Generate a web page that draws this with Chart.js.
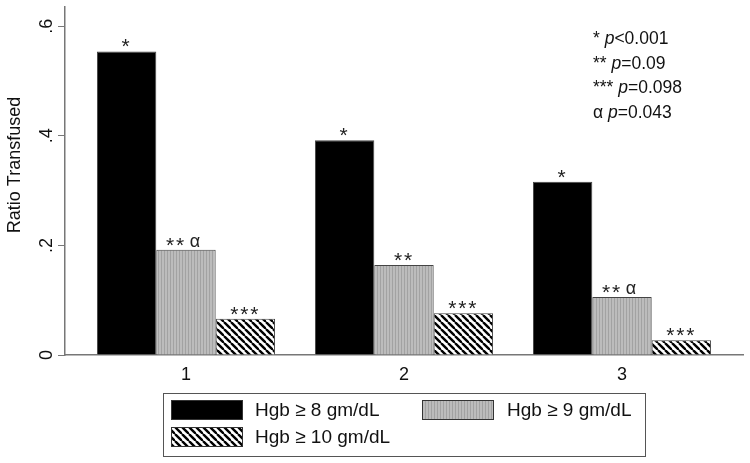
<!DOCTYPE html>
<html>
<head>
<meta charset="utf-8">
<script src="https://cdn.jsdelivr.net/npm/chart.js@4"></script>
<style>
  html, body { margin: 0; padding: 0; background: #fff; }
  #wrap { width: 750px; height: 463px; }
</style>
</head>
<body>
<div id="wrap"><canvas id="chart" width="750" height="463"></canvas></div>
<script>
// data
const groups = [1, 2, 3];
const seriesLabels = ["Hgb \u2265 8 gm/dL", "Hgb \u2265 9 gm/dL", "Hgb \u2265 10 gm/dL"];
const hgb8 = [0.554, 0.392, 0.316];
const hgb9 = [0.192, 0.164, 0.106];
const hgb10 = [0.066, 0.076, 0.027];
const marks8 = ["*", "*", "*"];
const marks9 = ["** \u03b1", "**", "** \u03b1"];
const marks10 = ["***", "***", "***"];
const yTicks = [0, 0.2, 0.4, 0.6];
const yTickLabels = ["0", ".2", ".4", ".6"];
const yTitle = "Ratio Transfused";
const noteMarks = ["*", "**", "***", "\u03b1"];
const noteValues = ["<0.001", "=0.09", "=0.098", "=0.043"];

const FONT = "'Liberation Sans', Arial, sans-serif";

function grayPattern() {
    const c = document.createElement("canvas");
    c.width = 3; c.height = 3;
    const g = c.getContext("2d");
    g.fillStyle = "#bcbcbc";
    g.fillRect(0, 0, 3, 3);
    g.fillStyle = "#a2a2a2";
    g.fillRect(2, 0, 1, 3);
    return g.createPattern(c, "repeat");
}

function hatchPattern() {
    const p = 7;
    const c = document.createElement("canvas");
    c.width = p; c.height = p;
    const g = c.getContext("2d");
    g.fillStyle = "#fff";
    g.fillRect(0, 0, p, p);
    g.strokeStyle = "#000";
    g.lineWidth = 2.4;
    [-p, 0, p].forEach(x0 => {
        g.beginPath();
        g.moveTo(x0, 0);
        g.lineTo(x0 + p, p);
        g.stroke();
    });
    return g.createPattern(c, "repeat");
}

const fills = ["#000", grayPattern(), hatchPattern()];
const seriesValues = [hgb8, hgb9, hgb10];
const seriesMarks = [marks8, marks9, marks10];

// spaced-out asterisks like the original
function drawStars(ctx, s, x, y) {
    ctx.font = "21px " + FONT;
    const gap = 10;
    const x0 = x - (s.length - 1) * gap / 2;
    for (let k = 0; k < s.length; k++) ctx.fillText("*", x0 + k * gap, y);
}

// stars / alpha above bars
const barMarks = {
    id: "barMarks",
    afterDatasetsDraw(chart) {
        const ctx = chart.ctx;
        ctx.save();
        ctx.fillStyle = "#222";
        ctx.textAlign = "center";
        ctx.textBaseline = "alphabetic";
        seriesMarks.forEach((marks, di) => {
            const meta = chart.getDatasetMeta(di);
            meta.data.forEach((bar, i) => {
                const txt = marks[i];
                if (txt.indexOf("\u03b1") >= 0) {
                    drawStars(ctx, txt.split(" ")[0], bar.x - 11, bar.y + 2);
                    ctx.font = "18px " + FONT;
                    ctx.fillText("\u03b1", bar.x + 9, bar.y - 3);
                } else {
                    drawStars(ctx, txt, bar.x - 1, bar.y + 2);
                }
            });
        });
        ctx.restore();
    }
};

// y title, p-value notes and legend box
const extras = {
    id: "extras",
    afterDraw(chart) {
        const ctx = chart.ctx;
        ctx.save();
        ctx.fillStyle = "#111";
        ctx.translate(15, 165);
        ctx.rotate(-Math.PI / 2);
        ctx.font = "18px " + FONT;
        ctx.textAlign = "center";
        ctx.textBaseline = "middle";
        ctx.fillText(yTitle, 0, 0);
        ctx.restore();

        ctx.save();
        ctx.fillStyle = "#111";
        ctx.textBaseline = "alphabetic";
        ctx.textAlign = "left";
        noteMarks.forEach((m, i) => {
            const y = 44 + i * 24.5;
            let x = 593;
            ctx.font = "17.5px " + FONT;
            ctx.fillText(m + " ", x, y);
            x += ctx.measureText(m + " ").width;
            ctx.font = "italic 17.5px " + FONT;
            ctx.fillText("p", x, y);
            x += ctx.measureText("p").width;
            ctx.font = "17.5px " + FONT;
            ctx.fillText(noteValues[i], x, y);
        });

        ctx.strokeStyle = "#555";
        ctx.lineWidth = 1;
        ctx.strokeRect(163.5, 393.5, 482, 63);
        const items = [
            { x: 171, y: 400, tx: 255 },
            { x: 422, y: 400, tx: 507 },
            { x: 171, y: 427, tx: 255 }
        ];
        items.forEach((it, i) => {
            ctx.fillStyle = fills[i];
            ctx.fillRect(it.x, it.y, 72, 20);
            ctx.strokeStyle = "#333";
            ctx.strokeRect(it.x + 0.5, it.y + 0.5, 71, 19);
            ctx.fillStyle = "#111";
            ctx.font = "19px " + FONT;
            ctx.textBaseline = "middle";
            ctx.fillText(seriesLabels[i], it.tx, it.y + 11);
        });
        ctx.restore();
    }
};

const datasets = seriesValues.map((vals, i) => ({
    label: seriesLabels[i],
    data: groups.map((g, j) => ({ x: g, y: vals[j] })),
    backgroundColor: fills[i],
    borderColor: "#444",
    borderWidth: 1,
    borderSkipped: "bottom",
    barPercentage: 1,
    categoryPercentage: 0.817
}));

new Chart(document.getElementById("chart"), {
    type: "bar",
    data: { datasets },
    options: {
        responsive: false,
        animation: false,
        layout: { padding: { top: 7, right: 7, bottom: 78, left: 0 } },
        plugins: {
            legend: { display: false },
            tooltip: { enabled: false }
        },
        scales: {
            x: {
                type: "linear",
                offset: false,
                min: 0.445,
                max: 3.555,
                afterBuildTicks: s => { s.ticks = groups.map(v => ({ value: v })); },
                afterFit: s => { s.height = 30; s.paddingLeft = 0; s.paddingRight = 0; },
                grid: { display: false, drawTicks: false, offset: false },
                border: { display: true, color: "#777", width: 1.5 },
                ticks: {
                    color: "#111",
                    font: { family: FONT, size: 18 },
                    padding: 9,
                    callback: v => String(v)
                }
            },
            y: {
                min: 0,
                max: 0.635,
                afterBuildTicks: s => { s.ticks = yTicks.map(v => ({ value: v })); },
                afterFit: s => { s.width = 65; s.paddingTop = 0; s.paddingBottom = 0; },
                grid: { drawOnChartArea: false, drawTicks: true, tickLength: 7, color: "#777" },
                border: { display: true, color: "#777", width: 1.5 },
                ticks: {
                    color: "#111",
                    font: { family: FONT, size: 18 },
                    minRotation: 90,
                    maxRotation: 90,
                    crossAlign: "center",
                    padding: 3,
                    callback: v => yTickLabels[yTicks.indexOf(v)]
                }
            }
        }
    },
    plugins: [barMarks, extras]
});
</script>
</body>
</html>
